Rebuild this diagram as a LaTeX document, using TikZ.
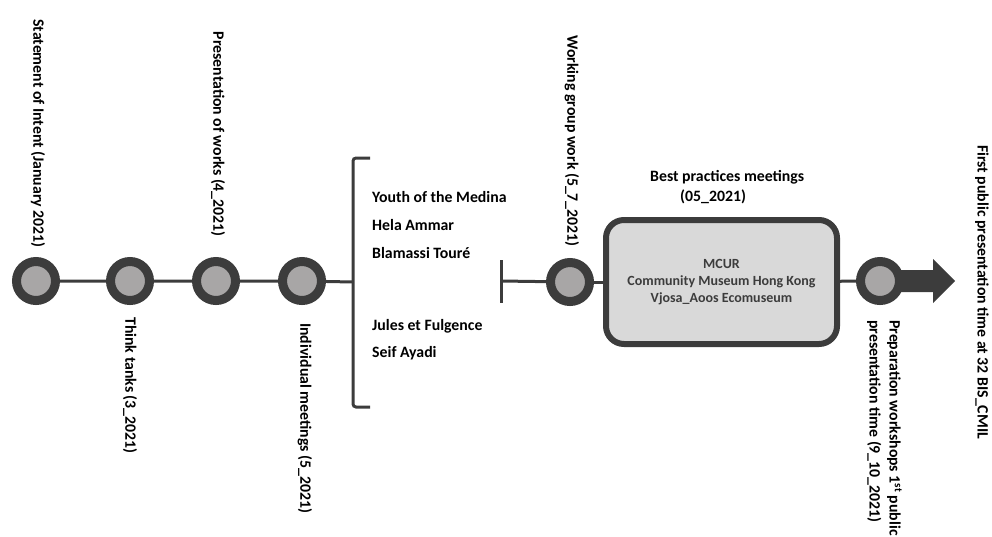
\documentclass[tikz,border=0pt]{standalone}
\usepackage{fontspec}
\setmainfont{Carlito}
\definecolor{dark}{HTML}{3C3C3C}
\definecolor{light}{HTML}{A8A6A6}
\definecolor{boxfill}{HTML}{D9D9D9}
\begin{document}
\begin{tikzpicture}[x=1pt,y=-1pt,
  lbl/.style={font=\bfseries\fontsize{15.8}{20}\selectfont, inner sep=0pt, rotate=-90},
  nm/.style={font=\bfseries\fontsize{15.8}{18}\selectfont, inner sep=0pt, anchor=west},
  ev/.style={circle, draw=dark, line width=9pt, fill=light, minimum size=39pt, inner sep=0pt},
  conn/.style={draw=dark, line width=3pt},
  box/.style={draw=dark, line width=6pt, fill=boxfill, rounded corners=18pt,
    minimum width=231pt, minimum height=124pt, align=center, text=dark,
    font=\bfseries\fontsize{14}{17}\selectfont}]
\useasboundingbox (0,0) rectangle (992,536);

% named coordinates
\coordinate (bt) at (370,158);
\coordinate (bb) at (370,407);
\coordinate (bm) at (353,282);
\coordinate (tt) at (501,260);
\coordinate (tb) at (501,303);
\coordinate (tm) at (501,281);
\coordinate (tip) at (955,281);

% connectors
\draw[conn] (36,281) -- (130,281) -- (216,281) -- (302,281) -- (bm);
\draw[conn] (tm) -- (570,282);
\draw[conn] (570,282) -- (721,282);
\draw[conn] (721,282) -- (880,281);

% arrow
\fill[dark] (880,270) -- (933,270) -- (933,259) -- (tip) -- (933,303) -- (933,292) -- (880,292) -- cycle;

% events
\node[ev] (c1) at (36,281) {};
\node[ev] (c2) at (130,281) {};
\node[ev] (c3) at (216,281) {};
\node[ev] (c4) at (302,281) {};
\node[ev] (c5) at (570,282) {};
\node[ev] (c6) at (880,281) {};

% bracket and T-bar
\draw[conn, rounded corners=3pt] (bt) -- (353,158) -- (353,407) -- (bb);
\draw[conn] (tt) -- (tb);

% box
\node[box] (bx) at (721.5,282) {MCUR\\Community Museum Hong Kong\\Vjosa\_Aoos Ecomuseum};
\node[font=\bfseries\fontsize{15.8}{20}\selectfont, inner sep=0pt, align=left, anchor=north west] (bp) at (650,170) {Best practices meetings\\\hspace*{30pt}(05\_2021)};

% labels
\node[lbl, anchor=east] (l1) at (38,248) {Statement of Intent (January 2021)};
\node[lbl, anchor=west] (l2) at (130,317) {Think tanks (3\_2021)};
\node[lbl, anchor=east] (l3) at (218,237) {Presentation of works (4\_2021)};
\node[lbl, anchor=west] (l4) at (305,323) {Individual meetings (5\_2021)};
\node[lbl, anchor=east] (l5) at (572,247) {Working group work (5\_7\_2021)};
\node[lbl, anchor=north west, align=left] (l6) at (902,320) {Preparation workshops 1\textsuperscript{st} public\\presentation time (9\_10\_2021)};
\node[lbl, anchor=west] (l7) at (982,145) {First public presentation time at 32 BIS\_CMIL};

% names
\node[nm] (n1) at (372,197) {Youth of the Medina};
\node[nm] (n2) at (372,225) {Hela Ammar};
\node[nm] (n3) at (372,253) {Blamassi Touré};
\node[nm] (n4) at (372,326) {Jules et Fulgence};
\node[nm] (n5) at (372,353) {Seif Ayadi};
\end{tikzpicture}
\end{document}
